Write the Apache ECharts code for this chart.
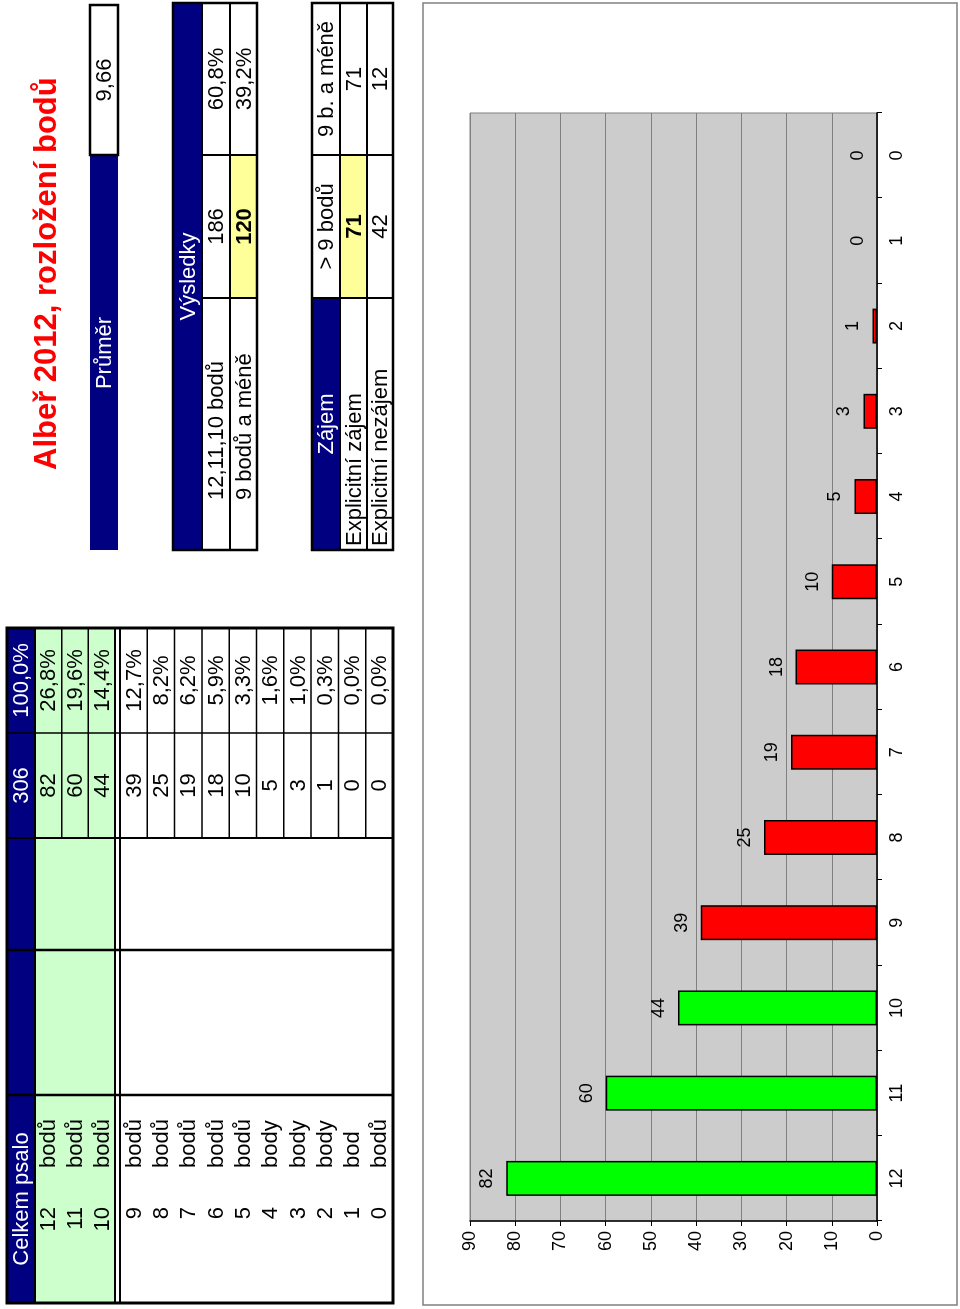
<!DOCTYPE html>
<html>
<head>
<meta charset="utf-8">
<title>Albeř 2012, rozložení bodů</title>
<script src="https://cdn.jsdelivr.net/npm/echarts@6/dist/echarts.min.js"></script>
<style>
  html, body { margin: 0; padding: 0; background: #fff; overflow: hidden; }
  /* the sheet was scanned sideways: draw it upright, then turn it */
  #sheet {
    position: absolute; left: 0; top: 0;
    width: 1309px; height: 960px;
    transform-origin: 0 0;
    transform: translate(0, 1309px) rotate(-90deg);
  }
</style>
</head>
<body>
<div id="sheet"></div>
<script>
  // body counts per score
  var categories = ['12', '11', '10', '9', '8', '7', '6', '5', '4', '3', '2', '1', '0'];
  var counts = [82, 60, 44, 39, 25, 19, 18, 10, 5, 3, 1, 0, 0];
  var percents = ['26,8%', '19,6%', '14,4%', '12,7%', '8,2%', '6,2%', '5,9%', '3,3%', '1,6%', '1,0%', '0,3%', '0,0%', '0,0%'];
  var unitWords = ['bodů', 'bodů', 'bodů', 'bodů', 'bodů', 'bodů', 'bodů', 'bodů', 'body', 'body', 'body', 'bod', 'bodů'];
  var totalCount = '306';
  var totalPercent = '100,0%';

  // summary tables
  var averageLabel = 'Průměr';
  var averageValue = '9,66';
  var resultTitle = 'Výsledky';
  var resultLabels = ['12,11,10 bodů', '9 bodů a méně'];
  var resultCounts = ['186', '120'];
  var resultPercents = ['60,8%', '39,2%'];
  var interestTitle = 'Zájem';
  var interestColumns = ['> 9 bodů', '9 b. a méně'];
  var interestLabels = ['Explicitní zájem', 'Explicitní nezájem'];
  var interestValues = [['71', '71'], ['42', '12']];

  var titleText = 'Albeř 2012, rozložení bodů';

  // value axis
  var valueMax = 90;
  var valueStep = 10;

  var FONT = '"Liberation Sans", Arial, sans-serif';
  var NAVY = '#000080';
  var GREEN_CELL = '#CCFFCC';
  var YELLOW_CELL = '#FFFF99';
  var topScores = 3; // 12, 11, 10 are the green ones

  var graphics = [];

  function rect(x1, y1, x2, y2, fill, stroke, lw) {
    graphics.push({
      type: 'rect', z: 1,
      shape: { x: x1, y: y1, width: x2 - x1, height: y2 - y1 },
      style: { fill: fill || 'none', stroke: stroke || null, lineWidth: lw || 0 }
    });
  }
  function line(x1, y1, x2, y2, lw) {
    graphics.push({
      type: 'line', z: 2,
      shape: { x1: x1, y1: y1, x2: x2, y2: y2 },
      style: { stroke: '#000', lineWidth: lw }
    });
  }
  function text(str, x, y, align, opts) {
    opts = opts || {};
    graphics.push({
      type: 'text', z: 3, x: x, y: y,
      style: {
        text: str,
        fill: opts.color || '#000',
        font: (opts.bold ? 'bold ' : '') + (opts.size || 22) + 'px ' + FONT,
        align: align,
        verticalAlign: 'middle'
      }
    });
  }

  // ---- left table ----
  var colX = [6, 214, 359, 471, 576, 681];
  var tTop = 7, tHead = 35, tGreenEnd = 115, tWhiteStart = 120, tBottom = 393;
  var rowEdges = [];
  for (var i = 0; i < topScores; i++) rowEdges.push(tHead + i * (tGreenEnd - tHead) / topScores);
  var restRows = categories.length - topScores;
  for (var j = 0; j < restRows; j++) rowEdges.push(tWhiteStart + j * (tBottom - tWhiteStart) / restRows);
  var rowH = function (k) { return k < topScores ? (tGreenEnd - tHead) / topScores : (tBottom - tWhiteStart) / restRows; };

  rect(colX[0], tTop, colX[5], tHead, NAVY);
  rect(colX[0], tHead, colX[5], tGreenEnd, GREEN_CELL);
  // row lines only in count / percent columns
  rowEdges.forEach(function (y, k) {
    if (k !== 0 && k !== topScores) line(colX[3], y, colX[5], y, 1.5);
  });
  line(colX[0], tHead, colX[5], tHead, 2);
  line(colX[0], tGreenEnd, colX[5], tGreenEnd, 2);
  line(colX[0], tWhiteStart, colX[5], tWhiteStart, 2);
  line(colX[1], tTop, colX[1], tBottom, 2.5);
  line(colX[2], tTop, colX[2], tBottom, 2.5);
  line(colX[3], tTop, colX[3], tBottom, 2);
  line(colX[4], tTop, colX[4], tBottom, 1.5);
  rect(colX[0], tTop, colX[5], tBottom, null, '#000', 3);

  text('Celkem psalo', (colX[0] + colX[1]) / 2, (tTop + tHead) / 2 + 1, 'center', { color: '#fff' });
  text(totalCount, (colX[3] + colX[4]) / 2, (tTop + tHead) / 2 + 1, 'center', { color: '#fff' });
  text(totalPercent, (colX[4] + colX[5]) / 2, (tTop + tHead) / 2 + 1, 'center', { color: '#fff' });
  categories.forEach(function (c, k) {
    var cy = rowEdges[k] + rowH(k) / 2 + 1;
    text(c, 102, cy, 'right');
    text(unitWords[k], 141, cy, 'left');
    text(String(counts[k]), (colX[3] + colX[4]) / 2, cy, 'center');
    text(percents[k], (colX[4] + colX[5]) / 2, cy, 'center');
  });

  // ---- title ----
  text(titleText, 839, 47, 'left', { color: '#FF0000', bold: true, size: 31 });

  // ---- right tables ----
  var rx = [759, 1011, 1154, 1306];

  // average
  rect(rx[0], 90, 1154, 118, NAVY);
  rect(1154, 90, 1304, 118, '#fff', '#000', 2.5);
  text(averageLabel, 956, 105, 'center', { color: '#fff' });
  text(averageValue, 1229, 105, 'center');

  // results
  var vy = [173, 202, 230, 257];
  rect(rx[0], vy[0], rx[3], vy[1], NAVY);
  rect(rx[1], vy[2], rx[2], vy[3], YELLOW_CELL);
  line(rx[0], vy[1], rx[3], vy[1], 2);
  line(rx[0], vy[2], rx[3], vy[2], 2);
  line(rx[1], vy[1], rx[1], vy[3], 2);
  line(rx[2], vy[1], rx[2], vy[3], 2);
  rect(rx[0], vy[0], rx[3], vy[3], null, '#000', 2.5);
  text(resultTitle, (rx[0] + rx[3]) / 2, (vy[0] + vy[1]) / 2 + 1, 'center', { color: '#fff' });
  resultLabels.forEach(function (lab, k) {
    var cy = (vy[k + 1] + vy[k + 2]) / 2 + 1;
    text(lab, 809, cy, 'left');
    text(resultCounts[k], (rx[1] + rx[2]) / 2, cy, 'center', { bold: k === 1 });
    text(resultPercents[k], (rx[2] + rx[3]) / 2, cy, 'center');
  });

  // interest
  var zy = [312, 340, 367, 393];
  rect(rx[0], zy[0], rx[1], zy[1], NAVY);
  rect(rx[1], zy[1], rx[2], zy[2], YELLOW_CELL);
  line(rx[0], zy[1], rx[3], zy[1], 2);
  line(rx[0], zy[2], rx[3], zy[2], 2);
  line(rx[1], zy[0], rx[1], zy[3], 2);
  line(rx[2], zy[0], rx[2], zy[3], 2);
  rect(rx[0], zy[0], rx[3], zy[3], null, '#000', 2.5);
  text(interestTitle, (rx[0] + rx[1]) / 2, (zy[0] + zy[1]) / 2 + 1, 'center', { color: '#fff' });
  text(interestColumns[0], (rx[1] + rx[2]) / 2, (zy[0] + zy[1]) / 2 + 1, 'center');
  text(interestColumns[1], (rx[2] + rx[3]) / 2, (zy[0] + zy[1]) / 2 + 1, 'center');
  interestLabels.forEach(function (lab, k) {
    var cy = (zy[k + 1] + zy[k + 2]) / 2 + 1;
    text(lab, 763, cy, 'left');
    text(interestValues[k][0], (rx[1] + rx[2]) / 2, cy, 'center', { bold: k === 0 });
    text(interestValues[k][1], (rx[2] + rx[3]) / 2, cy, 'center');
  });

  // ---- chart frame ----
  rect(4, 423, 1306, 957, null, '#808080', 1.5);

  var chart = echarts.init(document.getElementById('sheet'), null, { renderer: 'canvas' });

  var barData = counts.map(function (v, k) {
    return {
      value: v,
      itemStyle: {
        color: k < topScores ? '#00FF00' : '#FF0000',
        borderWidth: v === 0 ? 0 : 1.5
      }
    };
  });

  chart.setOption({
    animation: false,
    backgroundColor: '#fff',
    textStyle: { fontFamily: FONT },
    graphic: { elements: graphics },
    grid: {
      left: 88, right: 113, top: 470, bottom: 83,
      show: true, backgroundColor: '#CCCCCC', borderColor: '#808080', borderWidth: 1
    },
    xAxis: {
      type: 'category',
      data: categories,
      axisLine: { lineStyle: { color: '#000', width: 1.5 } },
      axisTick: { show: true, alignWithLabel: false, length: 5, lineStyle: { color: '#000' } },
      axisLabel: { color: '#000', fontSize: 18, fontFamily: FONT, margin: 11 }
    },
    yAxis: {
      type: 'value',
      min: 0, max: valueMax, interval: valueStep,
      axisLine: { show: true, lineStyle: { color: '#000', width: 1.5 } },
      axisTick: { show: true, length: 5, lineStyle: { color: '#000' } },
      axisLabel: { color: '#000', fontSize: 18, fontFamily: FONT, margin: 10 },
      splitLine: { lineStyle: { color: '#808080', width: 1 } }
    },
    series: [{
      type: 'bar',
      data: barData,
      barWidth: '41%',
      itemStyle: { borderColor: '#000', borderWidth: 1.5 },
      label: {
        show: true, position: 'top', distance: 10,
        color: '#000', fontSize: 18, fontFamily: FONT
      }
    }]
  });
</script>
</body>
</html>
